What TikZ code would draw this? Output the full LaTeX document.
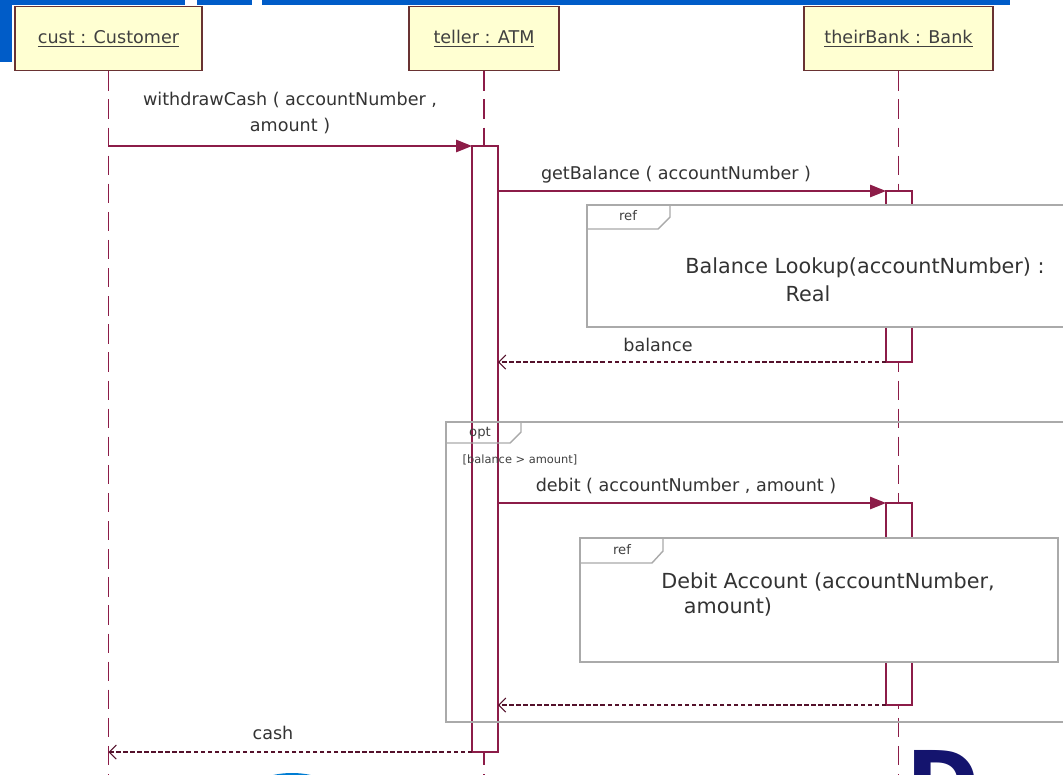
\documentclass[tikz,border=0pt]{standalone}
\usepackage{fontspec}
\setmainfont{DejaVu Sans}
\usetikzlibrary{arrows.meta}

\definecolor{umlred}{RGB}{140,28,72}
\definecolor{headfill}{RGB}{255,255,210}
\definecolor{headline}{RGB}{105,50,50}
\definecolor{framegray}{RGB}{170,170,170}
\definecolor{slideblue}{RGB}{0,92,200}
\definecolor{logonavy}{RGB}{20,20,110}

\begin{document}
\begin{tikzpicture}[x=0.02cm,y=-0.02cm,
        head/.style={draw=headline,fill=headfill,line width=0.9pt,minimum height=1.28cm,
            font=\fontsize{10}{12}\selectfont,text=black!75},
        lifeline/.style={umlred,line width=0.9pt,dash pattern=on 11pt off 5pt},
        bar/.style={draw=umlred,fill=white,line width=0.6pt},
        call/.style={umlred,line width=0.8pt,-{Triangle[length=9pt,width=7pt]}},
        reply/.style={umlred!60!black,line width=0.6pt,dash pattern=on 2.5pt off 1.5pt,
            -{Straight Barb[length=4pt,width=8pt]}},
        frame/.style={draw=framegray,line width=0.8pt},
        msg/.style={font=\fontsize{10}{14.7}\selectfont,text=black!80},
        reftext/.style={font=\fontsize{11.8}{14}\selectfont,text=black!80},
        tag/.style={font=\fontsize{7.5}{9}\selectfont,text=black!75}]

    \useasboundingbox (0,0) rectangle (1063,775);
    \clip (0,0) rectangle (1063,775);

    % slide background
    \fill[slideblue] (0,0) rectangle (1010,5);
    \fill[slideblue] (0,0) rectangle (12,62);
    \fill[white] (185,0) rectangle (197,5);
    \fill[white] (252,0) rectangle (262,5);
    \fill[slideblue!80!cyan] (292,792) ellipse [x radius=0.84cm, y radius=0.38cm];
    \node[font=\fontsize{50}{50}\selectfont\bfseries,text=logonavy,anchor=north west,inner sep=0pt]
        (logo) at (906,750) {D};

    % objects
    \node[head,minimum width=3.74cm] (cust) at (108.5,38.5) {\underline{cust : Customer}};
    \node[head,minimum width=3cm] (teller) at (484,38.5) {\underline{teller : ATM}};
    \node[head,minimum width=3.78cm] (bank) at (898.5,38.5) {\underline{theirBank : Bank}};

    \coordinate (custEnd) at (108.5,775);
    \coordinate (tellerEnd) at (484,775);
    \coordinate (bankEnd) at (898.5,775);

    \draw[lifeline] (cust.south) -- (custEnd);
    \draw[lifeline] (teller.south) -- (tellerEnd);
    \draw[lifeline] (bank.south) -- (bankEnd);

    % activations
    \coordinate (atmTop) at (472,146);
    \coordinate (atmBot) at (498,752);
    \coordinate (bk1Top) at (886,191);
    \coordinate (bk1Bot) at (912,362);
    \coordinate (bk2Top) at (886,503);
    \coordinate (bk2Bot) at (912,705);

    \draw[bar] (atmTop) rectangle (atmBot);
    \draw[bar] (bk1Top) rectangle (bk1Bot);
    \draw[bar] (bk2Top) rectangle (bk2Bot);

    % ref frames
    \draw[frame,fill=white] (587,205) rectangle (1075,327);
    \draw[frame] (587,229) -- (658,229) -- (670,217) -- (670,205);
    \node[tag] (refA) at (628,216) {ref};
    \node[reftext] (lookupText) at (865,268) {Balance Lookup(accountNumber) :};
    \node[reftext] (lookupType) at (808,294) {Real};

    \draw[frame,fill=white] (580,538) rectangle (1058,662);
    \draw[frame] (580,563) -- (652,563) -- (663,551) -- (663,538);
    \node[tag] (refB) at (622,550) {ref};
    \node[reftext] (debitText) at (828,582) {Debit Account (accountNumber,};
    \node[reftext] (debitArg) at (728,607) {amount)};

    % opt fragment
    \draw[frame] (446,422) rectangle (1075,722);
    \draw[frame] (446,443) -- (510,443) -- (521,432) -- (521,422);
    \node[tag] (optTag) at (480,433) {opt};
    \node[tag,font=\fontsize{6.5}{8}\selectfont] (guard) at (520,460) {[balance > amount]};

    % messages
    \draw[call] (cust.south |- atmTop) -- (atmTop);
    \draw[call] (atmBot |- bk1Top) -- (bk1Top);
    \draw[reply] (bk1Top |- bk1Bot) -- (atmBot |- bk1Bot);
    \draw[call] (atmBot |- bk2Top) -- (bk2Top);
    \draw[reply] (bk2Top |- bk2Bot) -- (atmBot |- bk2Bot);
    \draw[reply] (atmTop |- atmBot) -- (cust.south |- atmBot);

    \node[msg,align=center] (withdrawLbl) at (290,113) {withdrawCash ( accountNumber ,\\amount )};
    \node[msg] (getBalLbl) at (676,175) {getBalance ( accountNumber )};
    \node[msg] (balanceLbl) at (658,345) {balance};
    \node[msg] (debitLbl) at (686,486) {debit ( accountNumber , amount )};
    \node[msg] (cashLbl) at (273,733) {cash};
\end{tikzpicture}
\end{document}
